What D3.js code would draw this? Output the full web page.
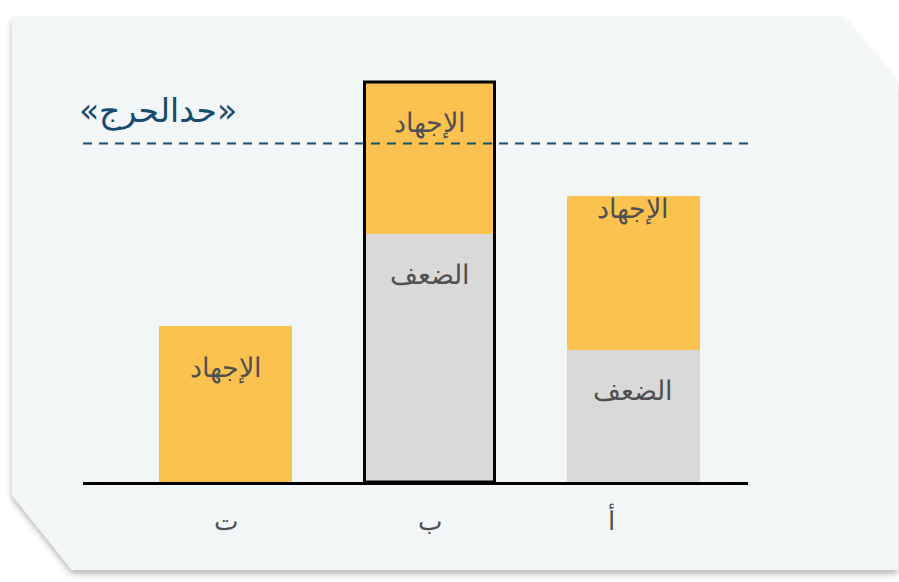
<!DOCTYPE html>
<html>
<head>
<meta charset="utf-8">
<script src="https://cdn.jsdelivr.net/npm/d3@7"></script>
<style>
  html, body { margin: 0; padding: 0; background: #ffffff; }
  svg { display: block; }
</style>
</head>
<body>
<svg id="chart" width="899" height="582"></svg>
<script>
// ---- data ----
const categories = ["ت", "ب", "أ"];          // left to right
const weakness   = [0, 62, 33];               // grey segment (الضعف)
const stress     = [39, 38, 38.5];            // orange segment (الإجهاد)
const threshold  = 84.6;                      // dashed critical line
const segmentLabels = ["الضعف", "الإجهاد"];
const thresholdLabel = "«حدالحرج»";
const highlighted = "ب";

// ---- layout ----
const W = 899, H = 582;
const svg = d3.select("#chart");
const defs = svg.append("defs");

const shadow = defs.append("filter").attr("id", "shadow")
  .attr("x", "-5%").attr("y", "-5%").attr("width", "110%").attr("height", "115%");
shadow.append("feDropShadow").attr("dx", 0).attr("dy", 4).attr("stdDeviation", 3)
  .attr("flood-color", "#000").attr("flood-opacity", 0.28);

// paper card with clipped corners
const card = [[12, 17], [843, 17], [898, 84], [898, 570], [72, 570], [12, 495]];
svg.append("path")
  .attr("d", d3.line()(card) + "Z")
  .attr("fill", "#f3f6f6")
  .attr("filter", "url(#shadow)");

const x = d3.scaleBand().domain(categories).range([159, 700])
  .paddingInner(0.348).paddingOuter(0);
const y = d3.scaleLinear().domain([0, 100]).range([482, 82]);

const fontFam = "'DejaVu Sans', 'Noto Sans', sans-serif";
const labelColor = "#505050";
const labelSize = 27;

const rows = categories.map((c, i) => ({ c, w: weakness[i], s: stress[i] }));

const g = svg.append("g");

// grey weakness segments
g.selectAll("rect.weak").data(rows.filter(d => d.w > 0)).join("rect")
  .attr("class", "weak")
  .attr("x", d => x(d.c)).attr("width", x.bandwidth())
  .attr("y", d => y(d.w)).attr("height", d => y(0) - y(d.w))
  .attr("fill", "#d9d9d9");

// orange stress segments
g.selectAll("rect.stress").data(rows).join("rect")
  .attr("class", "stress")
  .attr("x", d => x(d.c)).attr("width", x.bandwidth())
  .attr("y", d => y(d.w + d.s)).attr("height", d => y(d.w) - y(d.w + d.s))
  .attr("fill", "#fbc24f");

// highlighted bar border
const hi = rows.find(d => d.c === highlighted);
g.append("rect")
  .attr("x", x(hi.c) + 1.5).attr("width", x.bandwidth() - 3)
  .attr("y", y(hi.w + hi.s)).attr("height", y(0) - y(hi.w + hi.s))
  .attr("fill", "none").attr("stroke", "#000").attr("stroke-width", 3);

// segment labels
const stressDy = { "ت": 51, "ب": 50, "أ": 22 };
g.selectAll("text.slab").data(rows).join("text")
  .attr("class", "slab")
  .attr("x", d => x(d.c) + x.bandwidth() / 2)
  .attr("y", d => y(d.w + d.s) + stressDy[d.c])
  .attr("text-anchor", "middle")
  .attr("font-family", fontFam).attr("font-size", labelSize).attr("font-weight", 300)
  .attr("fill", labelColor)
  .text(segmentLabels[1]);

g.selectAll("text.wlab").data(rows.filter(d => d.w > 0)).join("text")
  .attr("class", "wlab")
  .attr("x", d => x(d.c) + x.bandwidth() / 2)
  .attr("y", d => y(d.w) + 50)
  .attr("text-anchor", "middle")
  .attr("font-family", fontFam).attr("font-size", labelSize).attr("font-weight", 300)
  .attr("fill", labelColor)
  .text(segmentLabels[0]);

// threshold dashed line
svg.append("line")
  .attr("x1", 83).attr("x2", 748)
  .attr("y1", y(threshold)).attr("y2", y(threshold))
  .attr("stroke", "#1d4e6d").attr("stroke-width", 2)
  .attr("stroke-dasharray", "9,7");

svg.append("text")
  .attr("x", 158).attr("y", y(threshold) - 22)
  .attr("text-anchor", "middle")
  .attr("font-family", fontFam).attr("font-size", 33)
  .attr("fill", "#174b6e")
  .text(thresholdLabel);

// x axis baseline
svg.append("line")
  .attr("x1", 83).attr("x2", 748)
  .attr("y1", y(0) + 1.5).attr("y2", y(0) + 1.5)
  .attr("stroke", "#000").attr("stroke-width", 3);

// category labels
const tickDx = { "ت": 0, "ب": 0, "أ": -22 };
svg.selectAll("text.cat").data(categories).join("text")
  .attr("class", "cat")
  .attr("x", d => x(d) + x.bandwidth() / 2 + tickDx[d])
  .attr("y", 530)
  .attr("text-anchor", "middle")
  .attr("font-family", fontFam).attr("font-size", 26).attr("font-weight", 300)
  .attr("fill", labelColor)
  .text(d => d);
</script>
</body>
</html>
